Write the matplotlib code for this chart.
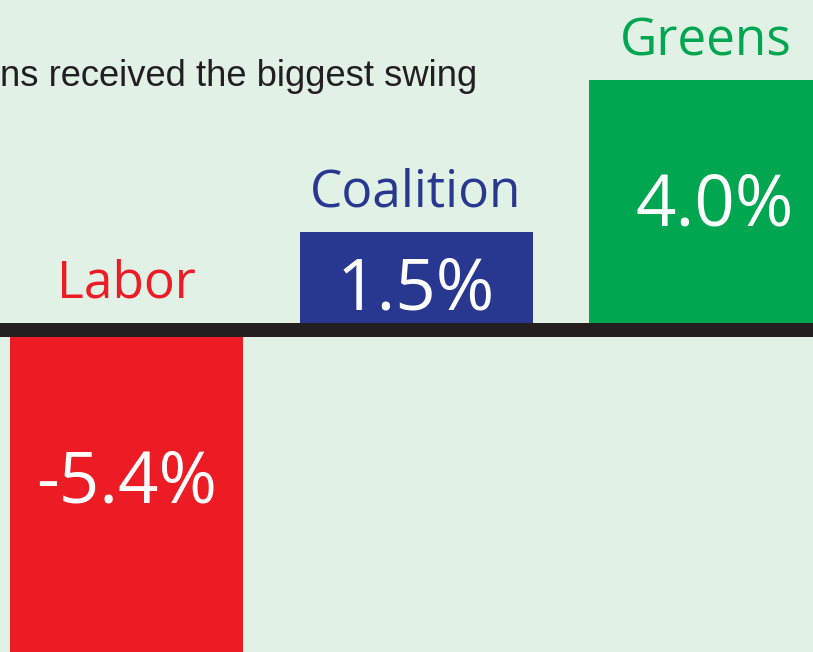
import matplotlib.pyplot as plt
import numpy as np

# Swing by party (percentage points)
parties = ["Labor", "Coalition", "Greens"]
swing = [-5.4, 1.5, 4.0]
value_labels = ["-5.4%", "1.5%", "4.0%"]
party_colors = ["#ed1c24", "#283891", "#00a650"]
title_text = "ns received the biggest swing"

# small nudges (in pixels) for the white value labels, as in the original artwork
value_nudge = [(0, -11), (0, 13), (9, 5)]

BG = "#e1f1e6"
INK = "#231f20"
PX_PER_PCT = 60.7          # vertical scale of the original graphic
GAP = 7 / PX_PER_PCT       # half-thickness of the zero line, in data units
PT = 0.72                  # points per pixel at dpi 100

fig = plt.figure(figsize=(8.13, 6.52), dpi=100, facecolor=BG)
ax = fig.add_axes([0, 0, 1, 1])
ax.set_facecolor(BG)
ax.set_xlim(-0.437, 2.371)
ax.set_ylim(-322 / PX_PER_PCT, 330 / PX_PER_PCT)
ax.axis("off")

x = np.arange(len(parties))
bottoms = [GAP if v >= 0 else -GAP for v in swing]
ax.bar(x, swing, width=0.805, bottom=bottoms, color=party_colors, linewidth=0)

# zero line
ax.axhline(0, color=INK, linewidth=14 * PT, zorder=3)

ymin, ymax = ax.get_ylim()
for xi, v, b, name, lab, col, (dx, dy) in zip(x, swing, bottoms, parties,
                                               value_labels, party_colors, value_nudge):
    top = max(v + b, GAP)
    ax.annotate(name, (xi, top), xytext=(0, 18), textcoords="offset points",
                ha="center", va="baseline", color=col, fontsize=37,
                family="Open Sans")
    lo, hi = sorted([b, b + v])
    mid = (max(lo, ymin) + hi) / 2
    ax.annotate(lab, (xi, mid), xytext=(dx * PT, -dy * PT), textcoords="offset points",
                ha="center", va="center", color="white", fontsize=51,
                family="Open Sans")

ax.text(0.0, 1 - 86 / 652, title_text, transform=ax.transAxes, ha="left",
        va="baseline", color=INK, fontsize=26.2, family="Liberation Sans")

fig.savefig("out.png", dpi=100, facecolor=BG)
